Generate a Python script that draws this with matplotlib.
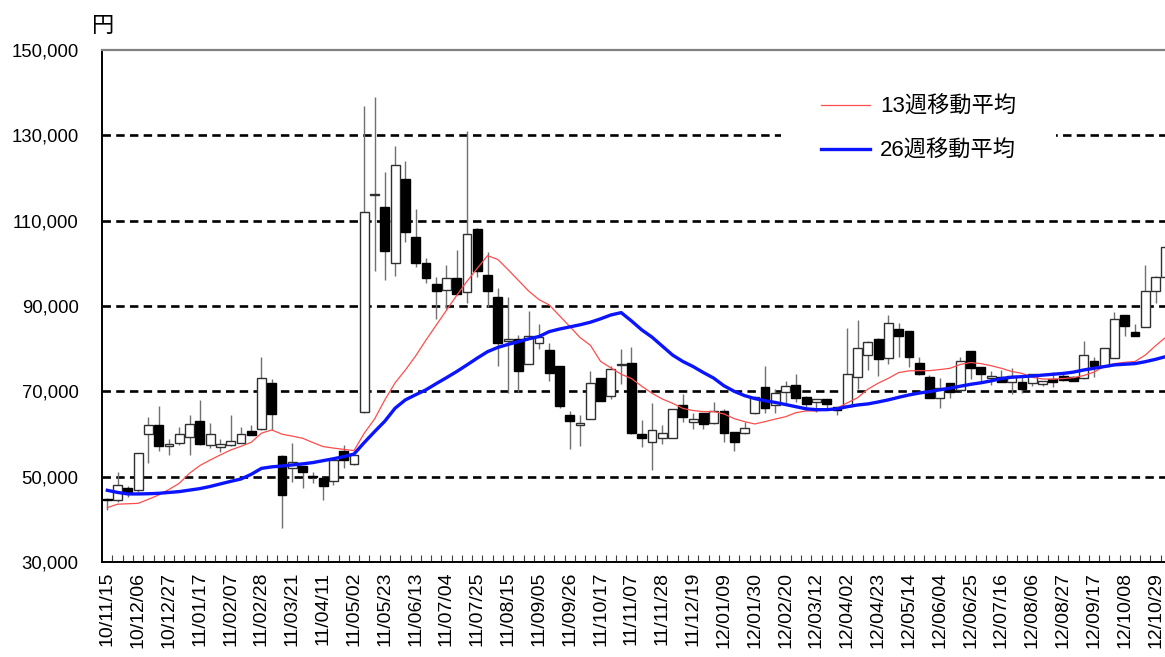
import matplotlib.pyplot as plt
import numpy as np

# weekly labels (every 3rd week)
week_labels = ['10/11/15', '10/12/06', '10/12/27', '11/01/17', '11/02/07', '11/02/28', '11/03/21',
               '11/04/11', '11/05/02', '11/05/23', '11/06/13', '11/07/04', '11/07/25', '11/08/15',
               '11/09/05', '11/09/26', '11/10/17', '11/11/07', '11/11/28', '11/12/19', '12/01/09',
               '12/01/30', '12/02/20', '12/03/12', '12/04/02', '12/04/23', '12/05/14', '12/06/04',
               '12/06/25', '12/07/16', '12/08/06', '12/08/27', '12/09/17', '12/10/08', '12/10/29']

opens = [44800, 44500, 47300, 46800, 60000, 62000, 57300, 57850, 59200, 63050,
         57350, 57050, 57450, 58000, 60700, 61100, 72000, 54850, 52000, 52500,
         50100, 49750, 49000, 56000, 52900, 65100, 116000, 113100, 100050, 119800,
         106200, 100100, 95200, 93800, 96650, 93250, 108100, 97150, 92200, 81900,
         82300, 76400, 81400, 79700, 75950, 64450, 62100, 63450, 73100, 68900,
         76200, 76650, 59950, 58050, 59000, 59150, 66800, 62900, 64850, 62500,
         65400, 60400, 60200, 64850, 70950, 66800, 69950, 71500, 68650, 67600,
         68200, 66300, 66450, 73300, 78400, 82250, 77800, 84550, 84150, 76750,
         73450, 68400, 71900, 70200, 79450, 75650, 73050, 73450, 72300, 72300,
         71900, 71800, 72900, 73700, 73450, 73050, 77150, 76050, 77900, 87900,
         84000, 85050, 93550, 96900]
highs = [45000, 51000, 47800, 55600, 64000, 66500, 58850, 61600, 64400, 67900,
         62550, 58800, 64400, 61600, 62100, 78150, 72850, 55000, 57850, 52600,
         51200, 49900, 53900, 57450, 55200, 136800, 139000, 121400, 127400, 124050,
         112800, 101350, 96900, 99500, 103150, 130950, 108200, 102750, 94300, 92200,
         83200, 88850, 85800, 81400, 76000, 65500, 64450, 74650, 73200, 76050,
         79950, 80500, 63300, 67200, 62100, 65900, 69400, 64850, 64900, 67400,
         65800, 60500, 62700, 69000, 75950, 70500, 72450, 74000, 69000, 68300,
         68300, 66400, 84950, 86750, 81700, 82400, 87900, 86000, 84200, 78000,
         73850, 73200, 72000, 78150, 79500, 75700, 74800, 75000, 75550, 73450,
         74100, 72500, 74600, 74200, 73600, 81800, 78000, 80200, 88700, 88000,
         85750, 99650, 97000, 104000]
lows = [42200, 44000, 45300, 46500, 53300, 56000, 55100, 57500, 55100, 57500,
        56650, 55700, 57200, 57800, 59700, 61000, 61000, 37900, 48800, 47300,
        48600, 44550, 48050, 51970, 52800, 65000, 98100, 96100, 97050, 105000,
        99100, 95350, 87000, 89250, 92500, 90800, 96900, 89850, 76050, 69550,
        69950, 76300, 79950, 72500, 66200, 56500, 57300, 63400, 67800, 68150,
        71750, 60100, 57050, 51550, 57600, 59100, 62750, 61200, 61100, 62400,
        58050, 56050, 60100, 64800, 64850, 64850, 67200, 67600, 65650, 65250,
        65700, 64450, 66400, 70500, 75000, 73600, 76350, 78150, 75800, 73900,
        68500, 66050, 68400, 70100, 72850, 72300, 71500, 72100, 69400, 69550,
        71200, 71350, 71100, 72500, 72400, 73000, 73450, 76000, 77800, 83000,
        82900, 85000, 90650, 96000]
closes = [44500, 48000, 46400, 55500, 62000, 57300, 57750, 59950, 62400, 57650,
          59950, 57650, 58300, 60100, 59850, 73100, 64800, 45800, 53500, 51200,
          49900, 47900, 53900, 53900, 55100, 112000, 116100, 102800, 123000, 107250,
          100050, 96650, 93550, 96500, 92900, 106850, 98300, 93600, 81400, 82200,
          74850, 82900, 82850, 74400, 66450, 63150, 62500, 71900, 67850, 75150,
          76500, 60200, 59000, 60950, 60200, 65850, 64050, 63450, 62300, 65300,
          60350, 58200, 61500, 68750, 66200, 69550, 71250, 68550, 67000, 68200,
          67000, 65650, 74100, 80100, 81650, 77600, 86000, 83000, 78150, 74000,
          68550, 70750, 69950, 77000, 75550, 74000, 73600, 72150, 73600, 70500,
          74000, 72400, 72300, 72700, 72500, 78550, 76050, 80100, 86900, 85400,
          83000, 93550, 96900, 103800]

ma13 = [42750, 43550, 43650, 43750, 44700, 45700, 47000, 48450, 50800, 52600,
        53900, 55100, 56250, 57100, 58050, 60200, 60950, 59950, 59500, 59000,
        58000, 57050, 56700, 56400, 56100, 60200, 63500, 68000, 72000, 75000,
        78300, 82000, 85500, 89000, 92500, 95800, 98850, 101800, 100900, 98500,
        96000, 93500, 91500, 90250, 87700, 85200, 82600, 80800, 77000, 75500,
        74000, 73000, 71200, 69550, 68200, 67200, 66000, 65500, 65250, 65250,
        64700, 63600, 62900, 62350, 62900, 63500, 64050, 65000, 65400, 65400,
        65700, 66050, 67300, 68500, 70500, 71900, 73050, 74400, 74800, 74850,
        74850, 75100, 75400, 76300, 76750, 76500, 76000, 75400, 74650, 74200,
        73300, 72900, 72850, 73000, 73200, 73700, 74500, 75800, 76500, 76800,
        77000, 78500, 80700, 82700]
ma26 = [46800, 46300, 45950, 45950, 46000, 46100, 46300, 46500, 46850, 47200,
        47700, 48300, 48900, 49450, 50550, 51950, 52300, 52500, 52750, 53000,
        53300, 53750, 54200, 54700, 55300, 58000, 60550, 63000, 66050, 68000,
        69200, 70350, 71800, 73200, 74650, 76200, 77800, 79300, 80300, 81000,
        81650, 82300, 82850, 84000, 84600, 85100, 85600, 86200, 87000, 87900,
        88450, 86500, 84400, 82700, 80600, 78500, 77000, 75800, 74400, 73100,
        71300, 70000, 69000, 68300, 67800, 67400, 66900, 66400, 65900, 65700,
        65700, 65900, 66400, 66800, 67050, 67500, 68000, 68600, 69150, 69600,
        69950, 70350, 70750, 71200, 71650, 72000, 72450, 73000, 73300, 73450,
        73600, 73800, 74000, 74200, 74500, 75000, 75400, 75800, 76200, 76350,
        76500, 76950, 77500, 78150]

y_ticks = [30000, 50000, 70000, 90000, 110000, 130000, 150000]
grid_levels = [50000, 70000, 90000, 110000, 130000]

plt.rcParams['font.family'] = ['Liberation Sans', 'Noto Sans CJK JP', 'DejaVu Sans']

W, H = 1165, 657
fig = plt.figure(figsize=(W / 100, H / 100), dpi=100)
ax = fig.add_axes([102.2 / W, (H - 562) / H, (1171 - 102.2) / W, 512 / H])

x = np.arange(len(opens))
o = np.array(opens)
c = np.array(closes)
up = c >= o
bottom = np.minimum(o, c)
height = np.maximum(np.abs(c - o), 250)

ax.hlines(grid_levels, -0.5, len(opens), colors='black', lw=1.9,
          linestyles=[(0, (3.2, 2.0))], zorder=1)

ax.vlines(x, lows, highs, color='#707070', lw=1, zorder=2)
ax.bar(x[up], height[up], bottom=bottom[up], width=0.86, facecolor='white',
       edgecolor='#303030', lw=1, zorder=3)
ax.bar(x[~up], height[~up], bottom=bottom[~up], width=0.86, facecolor='black',
       edgecolor='black', lw=1, zorder=3)

ax.plot(x, ma13, color='#ff4d4d', lw=0.9, zorder=4, label='13週移動平均')
ax.plot(x, ma26, color='#0a14ff', lw=2.4, zorder=5, label='26週移動平均')

ax.set_xlim(-0.5, len(opens) - 0.5)
ax.set_ylim(30000, 150000)

ax.set_xticks(np.arange(0, len(opens), 3))
ax.set_xticklabels(week_labels, rotation=90)
ax.set_xticks(np.arange(0.5, len(opens) - 1, 1), minor=True)
ax.tick_params(axis='x', which='major', length=0, pad=7, labelsize=14)
ax.tick_params(axis='x', which='minor', length=5, direction='in', width=0.8, color='#404040')

ax.set_yticks(y_ticks)
ax.set_yticklabels([f'{v:,}' for v in y_ticks])
ax.tick_params(axis='y', length=0, pad=17, labelsize=13.3)

ax.spines['right'].set_visible(False)
ax.spines['top'].set_color('#808080')
ax.spines['top'].set_linewidth(1.6)
ax.spines['left'].set_linewidth(1.4)
ax.spines['bottom'].set_linewidth(1.4)

leg = ax.legend(loc='upper left', bbox_to_anchor=(770 / W, 1 - 45 / H),
                bbox_transform=fig.transFigure, fontsize=16, frameon=True,
                facecolor='white', edgecolor='none', framealpha=1, fancybox=False,
                borderpad=1.8, handlelength=2.2, handletextpad=0.45, labelspacing=1.05)
leg.set_zorder(10)

fig.text(103 / W, 1 - 26 / H, '円', fontsize=16, ha='center', va='center')

fig.savefig('out.png', dpi=100)
